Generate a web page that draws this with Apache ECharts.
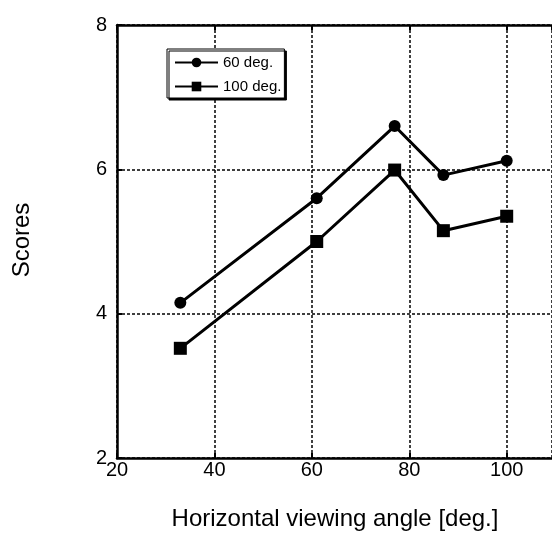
<!DOCTYPE html>
<html>
<head>
<meta charset="utf-8">
<script src="https://cdn.jsdelivr.net/npm/echarts@6/dist/echarts.min.js"></script>
<style>
  html, body { margin: 0; padding: 0; background: #fff; }
  #chart { width: 552px; height: 533px; }
</style>
</head>
<body>
<div id="chart"></div>
<script>
  // data
  var angles = [33, 61, 77, 87, 100]
  var scores60 = [4.15, 5.6, 6.6, 5.92, 6.12]
  var scores100 = [3.52, 5.0, 5.99, 5.15, 5.35]
  var seriesNames = ['60 deg.', '100 deg.']

  function pairs (xs, ys) {
    return xs.map(function (x, i) { return [x, ys[i]] })
  }

  var font = 'Liberation Sans, Arial, sans-serif'
  var axisStyle = { color: '#000', width: 2.5 }
  var dashed = { color: '#000', width: 1.5, type: [3, 2] }

  var chart = echarts.init(document.getElementById('chart'))
  chart.setOption({
    animation: false,
    grid: { left: 117, right: 0, top: 25, bottom: 75, outerBoundsMode: 'none' },
    legend: {
      orient: 'vertical',
      left: 167, top: 49,
      padding: [6, 3, 4, 7],
      itemGap: 9,
      itemWidth: 43, itemHeight: 12,
      backgroundColor: '#fff',
      borderColor: '#000', borderWidth: 1,
      shadowColor: '#000', shadowOffsetX: 2, shadowOffsetY: 2, shadowBlur: 0,
      textStyle: { fontFamily: font, fontSize: 15, color: '#000' },
      data: seriesNames
    },
    xAxis: [{
      type: 'value', min: 20, max: 109.3, interval: 20,
      axisLine: { show: true, lineStyle: axisStyle },
      axisTick: { show: true, inside: true, length: 5, lineStyle: { color: '#000', width: 2 } },
      axisLabel: { color: '#000', fontFamily: font, fontSize: 20, margin: 2, showMaxLabel: false },
      splitLine: { show: true, lineStyle: dashed }
    }, {
      type: 'value', position: 'top', min: 20, max: 109.3, interval: 20,
      axisLine: { show: true, lineStyle: axisStyle },
      axisTick: { show: true, inside: true, length: 5, lineStyle: { color: '#000', width: 2 } },
      axisLabel: { show: false },
      splitLine: { show: false }
    }],
    yAxis: {
      type: 'value', min: 2, max: 8, interval: 2,
      axisLine: { show: true, lineStyle: axisStyle },
      axisTick: { show: true, inside: true, length: 5, lineStyle: { color: '#000', width: 2 } },
      axisLabel: {
        color: '#000', fontFamily: font, fontSize: 20, margin: 10,
        padding: [0, 0, 10, 0]
      },
      splitLine: { show: true, lineStyle: dashed }
    },
    graphic: [{
      type: 'text', x: 335, y: 519,
      style: {
        text: 'Horizontal viewing angle [deg.]', fill: '#000', font: '24px ' + font,
        align: 'center', verticalAlign: 'middle'
      }
    }, {
      type: 'text', x: 22, y: 240, rotation: Math.PI / 2,
      style: {
        text: 'Scores', fill: '#000', font: '24px ' + font,
        align: 'center', verticalAlign: 'middle'
      }
    }],
    series: [
      {
        name: seriesNames[0], type: 'line',
        data: pairs(angles, scores60),
        symbol: 'circle', symbolSize: 12,
        lineStyle: { color: '#000', width: 3 },
        itemStyle: { color: '#000' }
      },
      {
        name: seriesNames[1], type: 'line',
        data: pairs(angles, scores100),
        symbol: 'rect', symbolSize: 13,
        lineStyle: { color: '#000', width: 3 },
        itemStyle: { color: '#000' }
      }
    ]
  })
</script>
</body>
</html>
